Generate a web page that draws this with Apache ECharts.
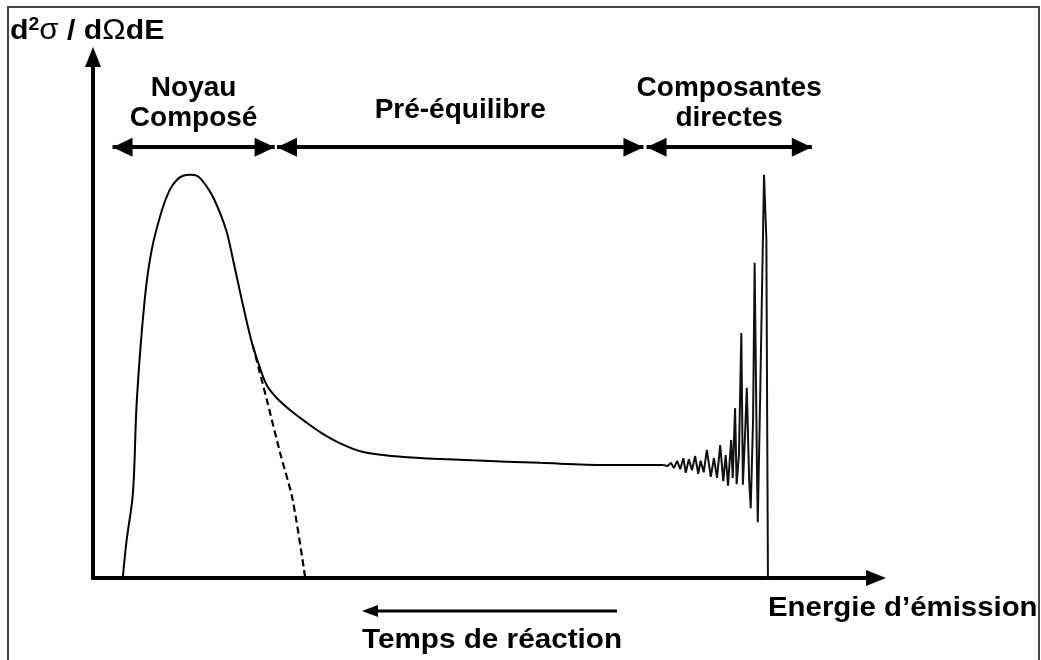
<!DOCTYPE html>
<html>
<head>
<meta charset="utf-8">
<script src="https://cdn.jsdelivr.net/npm/echarts@6/dist/echarts.min.js"></script>
<style>
  html, body { margin: 0; padding: 0; background: #fff; }
  #spectre { width: 1041px; height: 660px; }
</style>
</head>
<body>
<div id="spectre"></div>
<script>
// energie (u.a.) et d2sigma/dOmega dE (u.a.)
var smoothE = [3.8, 4.3, 5.1, 5.6, 6.6, 7.5, 8.8, 9.8, 10.7, 11.5, 12.4, 13.3, 14.4, 15.5, 17.0, 17.9, 19.0, 20.2, 21.2, 22.2, 23.5, 25.2, 27.3, 29.2, 31.5, 34.5, 40.1, 48.5, 57.1, 65.6, 72.8];
var smoothS = [0, 7.3, 16.3, 34.2, 53.4, 63.0, 70.6, 74.5, 76.4, 77.2, 77.4, 77.2, 75.4, 72.6, 66.8, 61.0, 53.4, 45.7, 40.9, 37.0, 34.5, 32.2, 29.8, 27.8, 25.9, 24.2, 23.2, 22.6, 22.1, 21.7, 21.7];

var directE = [72.8, 73.4, 73.8, 74.2, 74.6, 75.0, 75.4, 75.7, 76.1, 76.5, 76.9, 77.3, 77.6, 78.0, 78.4, 78.9, 79.3, 79.7, 80.1, 80.5, 80.8, 81.1, 81.5, 81.7, 82.0, 82.2, 82.5, 82.8, 83.0, 83.3, 83.5, 83.8, 84.0, 84.3, 84.5, 84.8, 84.9, 85.2, 85.7, 86.0, 86.1, 86.2];
var directS = [21.7, 21.5, 22.1, 21.1, 22.5, 20.9, 23.0, 20.2, 22.8, 20.7, 23.4, 20.0, 22.5, 20.3, 24.6, 19.4, 23.0, 19.2, 25.5, 18.6, 23.6, 17.7, 26.5, 19.2, 32.6, 18.0, 23.6, 47.0, 17.9, 28.4, 36.5, 18.8, 13.4, 30.3, 60.5, 20.7, 10.7, 34.2, 77.4, 64.9, 30.3, 0];

var evapE = [20.4, 22.2, 23.9, 25.5, 27.1];
var evapS = [44.7, 34.2, 24.0, 15.0, 0];

var regionNames = ['Noyau\nComposé', 'Pré-équilibre', 'Composantes\ndirectes'];
var regionFrom = [2.5, 23.5, 70.7];
var regionTo = [23.2, 70.3, 91.8];
var regionLevel = 82.7;

function pairs(xs, ys) {
  var out = [];
  for (var i = 0; i < xs.length; i++) out.push([xs[i], ys[i]]);
  return out;
}

function draw_spectre() {
  var dom = document.getElementById('spectre');
  var myChart = echarts.init(dom, null, { renderer: 'canvas' });
  var font = 'Liberation Sans, Arial, sans-serif';

  var regionLines = [];
  for (var i = 0; i < regionNames.length; i++) {
    regionLines.push([
      {
        coord: [regionFrom[i], regionLevel],
        name: regionNames[i],
        label: { distance: regionNames[i].indexOf('\n') > 0 ? 14 : 22 }
      },
      { coord: [regionTo[i], regionLevel] }
    ]);
  }

  var option = {
    animation: false,
    backgroundColor: '#fff',
    grid: { left: 93, right: 165, top: 57, bottom: 82 },
    xAxis: {
      type: 'value',
      min: 0,
      max: 100,
      axisLine: {
        show: true,
        lineStyle: { color: '#000', width: 4 },
        symbol: ['none', 'triangle'],
        symbolSize: [16, 20]
      },
      axisTick: { show: false },
      axisLabel: { show: false },
      splitLine: { show: false }
    },
    yAxis: {
      type: 'value',
      min: 0,
      max: 100,
      axisLine: {
        show: true,
        lineStyle: { color: '#000', width: 4 },
        symbol: ['none', 'triangle'],
        symbolSize: [16, 20]
      },
      axisTick: { show: false },
      axisLabel: { show: false },
      splitLine: { show: false }
    },
    series: [
      {
        type: 'line',
        data: pairs(smoothE, smoothS),
        smooth: 0.35,
        symbol: 'none',
        lineStyle: { color: '#000', width: 2 },
        markLine: {
          silent: true,
          symbol: ['triangle', 'triangle'],
          symbolSize: [19, 20],
          symbolOffset: [[0, 10], [0, 10]],
          lineStyle: { color: '#000', width: 4, type: 'solid' },
          label: {
            show: true,
            position: 'middle',
            formatter: '{b}',
            color: '#000',
            fontFamily: font,
            fontWeight: 'bold',
            fontSize: 28,
            lineHeight: 30,
            align: 'center'
          },
          emphasis: { disabled: true },
          data: regionLines
        }
      },
      {
        type: 'line',
        data: pairs(directE, directS),
        symbol: 'none',
        lineStyle: { color: '#111', width: 2 }
      },
      {
        type: 'line',
        data: pairs(evapE, evapS),
        smooth: 0.3,
        symbol: 'none',
        lineStyle: { color: '#000', width: 2.2, type: [7, 4] }
      }
    ],
    graphic: [
      {
        type: 'rect',
        silent: true,
        shape: { x: 8, y: 7, width: 1031, height: 700 },
        style: { fill: 'none', stroke: '#444', lineWidth: 2 }
      },
      {
        type: 'text',
        x: 10,
        y: 16,
        scaleX: 1.08,
        style: {
          text: '{b|d}{sup|2}{g|σ}{b| / d}{g|Ω}{b|dE}',
          rich: {
            b: { fontFamily: font, fontWeight: 'bold', fontSize: 28, lineHeight: 30, fill: '#000' },
            sup: { fontFamily: font, fontWeight: 'bold', fontSize: 18, verticalAlign: 'top', fill: '#000' },
            g: { fontFamily: font, fontSize: 29, lineHeight: 30, fill: '#000' }
          }
        }
      },
      {
        type: 'text',
        x: 768,
        y: 594,
        scaleX: 1.05,
        style: {
          text: 'Energie d’émission',
          fontFamily: font,
          fontWeight: 'bold',
          fontSize: 28,
          fill: '#000'
        }
      },
      {
        type: 'text',
        x: 362,
        y: 626,
        scaleX: 1.06,
        style: {
          text: 'Temps de réaction',
          fontFamily: font,
          fontWeight: 'bold',
          fontSize: 28,
          fill: '#000'
        }
      },
      {
        type: 'line',
        silent: true,
        shape: { x1: 617, y1: 611, x2: 374, y2: 611 },
        style: { stroke: '#000', lineWidth: 3 }
      },
      {
        type: 'polygon',
        silent: true,
        shape: { points: [[362, 611], [378, 605], [378, 617]] },
        style: { fill: '#000' }
      }
    ]
  };

  if (option && typeof option === 'object') {
    myChart.setOption(option);
  }

  window.addEventListener('resize', myChart.resize);
}

draw_spectre();
</script>
</body>
</html>
